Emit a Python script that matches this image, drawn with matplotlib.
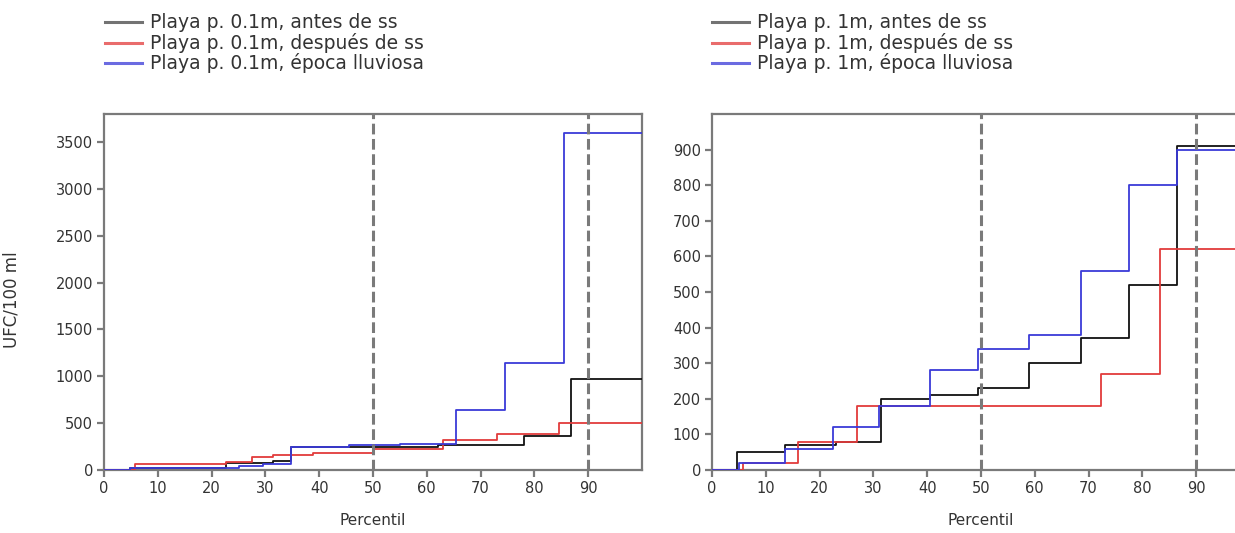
import matplotlib
matplotlib.use("Agg")
import matplotlib.pyplot as plt
from matplotlib.lines import Line2D

# percentile breakpoints (x) and UFC/100 ml values after each breakpoint
# left panel: Playa p. 0.1m
p01_antes_x = [0, 4.8, 22.7, 31.4, 34.8, 46, 62, 78, 86.8, 100]
p01_antes_y = [0, 20, 75, 95, 245, 250, 270, 360, 970, 970]
p01_despues_x = [0, 5.7, 22.7, 27.6, 31.4, 38.8, 50, 63, 73, 84.5, 100]
p01_despues_y = [0, 60, 90, 140, 155, 180, 220, 320, 380, 500, 500]
p01_lluviosa_x = [0, 4.8, 25, 29.5, 34.8, 45.5, 55, 65.5, 74.5, 85.5, 100]
p01_lluviosa_y = [0, 20, 40, 60, 250, 265, 280, 640, 1140, 3600, 3600]

# right panel: Playa p. 1m
p1_antes_x = [0, 4.6, 13.5, 23, 31.5, 40.5, 49.5, 59, 68.5, 77.5, 86.5, 100]
p1_antes_y = [0, 50, 70, 80, 200, 210, 230, 300, 370, 520, 910, 910]
p1_despues_x = [0, 5.7, 16, 27, 72.3, 83.3, 100]
p1_despues_y = [0, 20, 80, 180, 270, 620, 620]
p1_lluviosa_x = [0, 5, 13.5, 22.5, 31, 40.5, 49.5, 59, 68.5, 77.5, 86.5, 100]
p1_lluviosa_y = [0, 20, 60, 120, 180, 280, 340, 380, 560, 800, 900, 900]

xticks = list(range(0, 100, 10))
left_yticks = list(range(0, 4000, 500))
right_yticks = list(range(0, 1000, 100))
refs = [50, 90]

left_labels = ["Playa p. 0.1m, antes de ss", "Playa p. 0.1m, después de ss",
               "Playa p. 0.1m, época lluviosa"]
right_labels = ["Playa p. 1m, antes de ss", "Playa p. 1m, después de ss",
                "Playa p. 1m, época lluviosa"]

c_antes = "#111111"
c_despues = "#e23b3b"
c_lluviosa = "#3a3ad8"
frame = "#7a7a7a"
txt = "#333333"

W, H = 1235, 533
fig = plt.figure(figsize=(W / 100, H / 100), dpi=100)
ax1 = fig.add_axes([104 / W, 63 / H, 538 / W, 356 / H])
ax2 = fig.add_axes([712 / W, 63 / H, 538 / W, 356 / H])


def draw_panel(ax, series, ymax, yticks):
    for xs, ys, col in series:
        ax.step(xs, ys, where="post", color=col, lw=1.3, zorder=3)
    for r in refs:
        ax.axvline(r, color=frame, lw=2.2, ls=(0, (3.5, 1.5)), zorder=4)
    ax.set_xlim(0, 100)
    ax.set_ylim(0, ymax)
    ax.set_xticks(xticks)
    ax.set_yticks(yticks)
    for s in ax.spines.values():
        s.set_color(frame)
        s.set_linewidth(1.6)
    ax.tick_params(length=5, width=1.6, color=frame, labelsize=10.5,
                   labelcolor=txt, pad=3)
    ax.set_xlabel("Percentil", fontsize=11, color=txt, labelpad=12)


draw_panel(ax1, [(p01_antes_x, p01_antes_y, c_antes),
                 (p01_despues_x, p01_despues_y, c_despues),
                 (p01_lluviosa_x, p01_lluviosa_y, c_lluviosa)],
           3800, left_yticks)
ax1.set_ylabel("UFC/100 ml", fontsize=12, color=txt)
ax1.yaxis.set_label_coords((21 - 104) / 538, (471 - 301) / 356)

draw_panel(ax2, [(p1_antes_x, p1_antes_y, c_antes),
                 (p1_despues_x, p1_despues_y, c_despues),
                 (p1_lluviosa_x, p1_lluviosa_y, c_lluviosa)],
           1000, right_yticks)


def add_legend(labels, x0):
    cols = ("#444444", c_despues, c_lluviosa)
    rows = [22, 43, 63]
    for lab, col, yy in zip(labels, cols, rows):
        fy = 1 - yy / H
        fig.add_artist(Line2D([x0 / W, (x0 + 37) / W], [fy, fy],
                              transform=fig.transFigure, color=col,
                              lw=2.2, alpha=0.75))
        fig.text((x0 + 45) / W, fy, lab, fontsize=13.5, color=txt,
                 va="center", ha="left")


add_legend(left_labels, 105)
add_legend(right_labels, 712)

fig.savefig("out.png", dpi=100)
